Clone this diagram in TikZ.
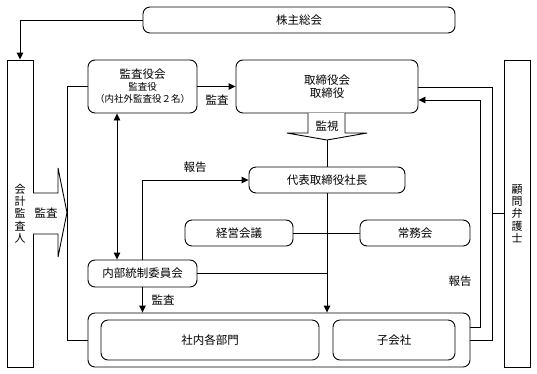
\documentclass[tikz,border=0pt]{standalone}
\usepackage{fontspec}
\setmainfont{Noto Sans CJK JP}
\usetikzlibrary{arrows.meta,calc}
\begin{document}
\begin{tikzpicture}[x=1pt,y=-1pt,
  line width=0.9pt,
  box/.style={draw,rounded corners=7pt,inner sep=0pt,font=\fontsize{11.5}{13}\selectfont},
  sbox/.style={draw,inner sep=0pt,font=\fontsize{11}{12.3}\selectfont,align=center},
  lbl/.style={font=\fontsize{11.5}{13}\selectfont,inner sep=0pt},
  arr/.style={-{Triangle[length=7pt,width=6.5pt]}},
  darr/.style={{Triangle[length=7pt,width=6.5pt]}-{Triangle[length=7pt,width=6.5pt]}}]
\useasboundingbox (0,0) rectangle (537,373);
% nodes
\node[box,minimum width=312pt,minimum height=26pt] (kabu) at (299,20) {株主総会};
\node[sbox,minimum width=26pt,minimum height=307pt] (kaikei) at (20,213.5) {会\\計\\監\\査\\人};
\node[sbox,minimum width=26pt,minimum height=307pt] (komon) at (517,213.5) {顧\\問\\弁\\護\\士};
\node[box,minimum width=109pt,minimum height=53pt,align=center] (kansayaku) at (142.5,86.5)
  {監査役会\\[-1pt]{\fontsize{9.5}{11}\selectfont 監査役}\\[-1pt]{\fontsize{9.5}{11}\selectfont （内社外監査役２名）}};
\node[box,minimum width=182pt,minimum height=53pt,align=center] (torishimari) at (327,86.5) {取締役会\\取締役};
\node[box,minimum width=156pt,minimum height=26pt] (daihyo) at (327,180) {代表取締役社長};
\node[box,minimum width=108pt,minimum height=26pt] (keiei) at (239,233) {経営会議};
\node[box,minimum width=110pt,minimum height=26pt] (jomu) at (415,233) {常務会};
\node[box,minimum width=109pt,minimum height=27pt] (naibu) at (142.5,273.5) {内部統制委員会};
\node[box,minimum width=382pt,minimum height=54pt] (outer) at (279,340) {};
\node[box,minimum width=218pt,minimum height=40pt] (shanai) at (210,340) {社内各部門};
\node[box,minimum width=122pt,minimum height=40pt] (kogaisha) at (394,340) {子会社};
% block arrows
\draw[fill=white] (33,193) -- (58,193) -- (58,168) -- (67,212.5) -- (58,257) -- (58,234) -- (33,234);
\node[lbl] (lkansa1) at (46,213.5) {監査};
\draw[fill=white] (308,113) -- (308,133) -- (287,133) -- (327,140) -- (367,133) -- (345,133) -- (345,113);
\node[lbl] (lkanshi) at (327,126.5) {監視};
\coordinate (tip) at (327,140);
% connectors
\draw[arr] (kabu.west) -| (kaikei.north);
\coordinate (lc) at (67,340);
\draw (kansayaku.west) -| (lc) -- (outer.west);
\draw[arr] (kansayaku.east) -- (torishimari.west);
\node[lbl] (lkansa2) at (217,100) {監査};
\draw (tip) -- (daihyo.north);
\draw[arr] (daihyo.south) -- (daihyo.south |- outer.north);
\draw (keiei.east) -- (jomu.west);
\draw (naibu.east) -- (naibu.east -| daihyo.south);
\draw[darr] ([xshift=-25.5pt]kansayaku.south) -- ([xshift=-25.5pt]naibu.north);
\draw[arr] (naibu.north) |- (daihyo.west);
\node[lbl] (lhoukoku1) at (195,167) {報告};
\draw[arr] (naibu.south) -- (naibu.south |- outer.north);
\node[lbl] (lkansa3) at (163,300) {監査};
\coordinate (r1) at (480,100);
\coordinate (r2) at (492,87);
\draw[arr] ([yshift=13pt]outer.east) -| (r1) -- (r1 -| torishimari.east);
\draw (outer.east) -| (r2) -- (r2 -| torishimari.east);
\draw (komon.west) -- (komon.west -| r2);
\node[lbl] (lhoukoku2) at (460,281) {報告};
\end{tikzpicture}
\end{document}
